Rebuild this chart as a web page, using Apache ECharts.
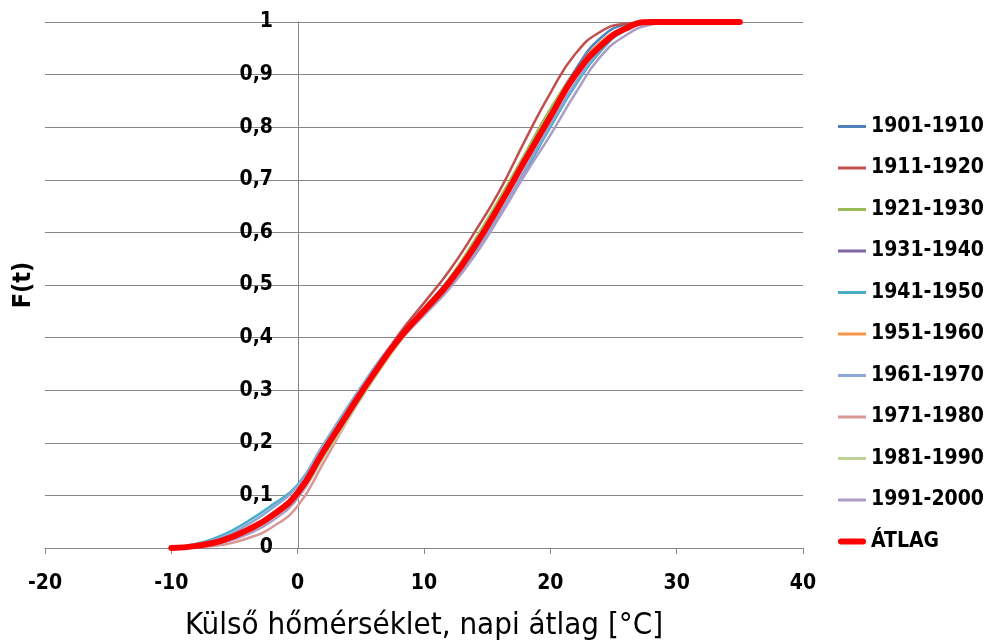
<!DOCTYPE html>
<html>
<head>
<meta charset="utf-8">
<script src="https://cdn.jsdelivr.net/npm/echarts@6/dist/echarts.min.js"></script>
<style>
  html, body { margin: 0; padding: 0; background: #ffffff; }
  #chart { width: 993px; height: 642px; }
</style>
</head>
<body>
<div id="chart"></div>
<script>
// Daily mean outdoor temperature (°C) at which each cumulative share is read
const temps = [-10, -8, -6, -4, -2, 0, 2, 4, 6, 8, 10, 12, 14, 16, 18, 20, 22, 24, 26, 28, 30, 35];

// Cumulative distribution F(t) per decade
const f1901 = [0, 0.005, 0.016, 0.036, 0.066, 0.110, 0.190, 0.265, 0.340, 0.402, 0.456, 0.512, 0.580, 0.660, 0.745, 0.830, 0.910, 0.970, 0.995, 1, 1, 1];
const f1911 = [0, 0.005, 0.016, 0.036, 0.064, 0.105, 0.180, 0.255, 0.335, 0.406, 0.466, 0.527, 0.600, 0.680, 0.775, 0.865, 0.940, 0.982, 0.997, 1, 1, 1];
const f1921 = [0, 0.004, 0.013, 0.032, 0.060, 0.100, 0.175, 0.250, 0.325, 0.392, 0.452, 0.512, 0.585, 0.665, 0.750, 0.835, 0.905, 0.962, 0.990, 1, 1, 1];
const f1931 = [0, 0.005, 0.015, 0.035, 0.065, 0.108, 0.185, 0.262, 0.340, 0.402, 0.454, 0.505, 0.570, 0.650, 0.735, 0.820, 0.900, 0.960, 0.990, 1, 1, 1];
const f1941 = [0, 0.008, 0.024, 0.050, 0.082, 0.120, 0.195, 0.265, 0.335, 0.397, 0.447, 0.497, 0.560, 0.635, 0.715, 0.800, 0.880, 0.945, 0.985, 0.998, 1, 1];
const f1951 = [0, 0.004, 0.013, 0.033, 0.062, 0.103, 0.180, 0.255, 0.330, 0.397, 0.454, 0.508, 0.575, 0.655, 0.740, 0.825, 0.905, 0.962, 0.990, 1, 1, 1];
const f1961 = [0, 0.007, 0.020, 0.044, 0.076, 0.118, 0.195, 0.270, 0.340, 0.402, 0.450, 0.498, 0.560, 0.635, 0.720, 0.805, 0.885, 0.950, 0.985, 0.998, 1, 1];
const f1971 = [0, 0.002, 0.006, 0.018, 0.040, 0.080, 0.160, 0.245, 0.325, 0.397, 0.452, 0.508, 0.575, 0.655, 0.740, 0.825, 0.900, 0.960, 0.990, 1, 1, 1];
const f1981 = [0, 0.003, 0.010, 0.028, 0.055, 0.095, 0.170, 0.245, 0.320, 0.389, 0.447, 0.503, 0.570, 0.650, 0.735, 0.820, 0.895, 0.955, 0.988, 1, 1, 1];
const f1991 = [0, 0.002, 0.010, 0.026, 0.052, 0.095, 0.175, 0.250, 0.325, 0.392, 0.442, 0.493, 0.555, 0.630, 0.710, 0.785, 0.865, 0.935, 0.975, 0.995, 1, 1];
const fAtlag = [0, 0.004, 0.014, 0.034, 0.062, 0.105, 0.182, 0.257, 0.330, 0.397, 0.451, 0.505, 0.573, 0.652, 0.737, 0.820, 0.900, 0.955, 0.988, 1, 1, 1];

const decadeNames = ['1901-1910', '1911-1920', '1921-1930', '1931-1940', '1941-1950',
                     '1951-1960', '1961-1970', '1971-1980', '1981-1990', '1991-2000'];
const decadeValues = [f1901, f1911, f1921, f1931, f1941, f1951, f1961, f1971, f1981, f1991];
const decadeColors = ['#4F81BD', '#C0504D', '#9BBB59', '#8064A2', '#4BACC6',
                      '#F79646', '#8CA8D8', '#D99795', '#BDD494', '#AB9DC8'];
const averageName = 'ÁTLAG';

const FONT = '"DejaVu Sans Condensed", "DejaVu Sans", sans-serif';
const GRAY = '#868686';
// legend swatches: thin bar for decades, thick bar for the average
const THIN_BAR = 'path://M0,0 H28 V3 H0 Z';
const THICK_BAR = 'path://M3,0 H25 A3,3 0 0 1 25,6 H3 A3,3 0 0 1 3,0 Z';

function pairs(ys) {
  return temps.map((t, i) => [t, ys[i]]);
}

const series = decadeNames.map((name, k) => ({
  name: name,
  type: 'line',
  data: pairs(decadeValues[k]),
  showSymbol: false,
  symbol: 'none',
  smooth: 0.5,
  color: decadeColors[k],
  lineStyle: { width: 2.5, color: decadeColors[k] },
  emphasis: { disabled: true }
}));
series.push({
  name: averageName,
  type: 'line',
  data: pairs(fAtlag),
  showSymbol: false,
  symbol: 'none',
  smooth: 0.5,
  color: '#FF0000',
  lineStyle: { width: 6, color: '#FF0000', cap: 'round' },
  z: 5,
  emphasis: { disabled: true }
});

const legendData = decadeNames.map(n => ({ name: n, icon: THIN_BAR }))
  .concat([{ name: averageName, icon: THICK_BAR }]);

const chart = echarts.init(document.getElementById('chart'), null, { renderer: 'canvas' });
chart.setOption({
  animation: false,
  backgroundColor: '#ffffff',
  textStyle: { fontFamily: FONT },
  grid: { left: 45, right: 190, top: 22, bottom: 94, containLabel: false, outerBoundsMode: 'none' },
  legend: {
    orient: 'vertical',
    left: 833,
    top: 111,
    itemWidth: 28,
    itemHeight: 14,
    itemGap: 20.5,
    data: legendData,
    textStyle: { fontFamily: FONT, fontWeight: 'bold', fontSize: 21, color: '#000' }
  },
  xAxis: {
    type: 'value',
    min: -20,
    max: 40,
    interval: 10,
    name: 'Külső hőmérséklet, napi átlag [°C]',
    nameLocation: 'middle',
    nameGap: 62,
    nameTextStyle: { fontFamily: FONT, fontSize: 31, color: '#000' },
    axisLine: { show: true, onZero: false, lineStyle: { color: GRAY, width: 1 } },
    axisTick: { show: true, length: 6, lineStyle: { color: GRAY } },
    axisLabel: { margin: 25, fontFamily: FONT, fontWeight: 'bold', fontSize: 21, color: '#000' },
    splitLine: { show: false }
  },
  yAxis: {
    type: 'value',
    min: 0,
    max: 1,
    interval: 0.1,
    // the vertical axis sits on t = 0 °C
    offset: -253,
    name: 'F(t)',
    nameLocation: 'middle',
    nameGap: 262,
    nameTextStyle: { fontFamily: FONT, fontWeight: 'bold', fontSize: 25, color: '#000' },
    axisLine: { show: true, onZero: false, lineStyle: { color: GRAY, width: 1 } },
    axisTick: { show: false },
    axisLabel: {
      margin: 25,
      fontFamily: FONT,
      fontWeight: 'bold',
      fontSize: 21,
      color: '#000',
      formatter: v => String(+v.toFixed(1)).replace('.', ',')
    },
    splitLine: { show: true, lineStyle: { color: GRAY, width: 1 } }
  },
  series: series
});
</script>
</body>
</html>
